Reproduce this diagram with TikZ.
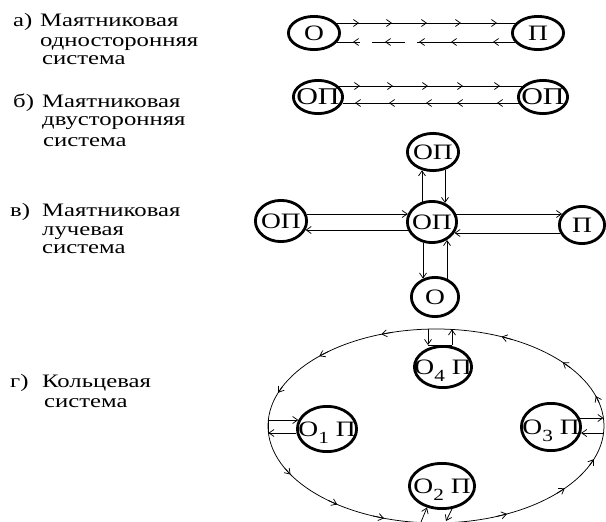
\documentclass[tikz,border=0pt]{standalone}
\usepackage{fontspec}
\setmainfont{Liberation Serif}
\usetikzlibrary{arrows.meta,decorations.markings,calc,shapes.geometric}
\newcommand\hs[1]{\scalebox{1.3}[1]{#1}}
\newcommand\nt[1]{\makebox[0pt]{\raisebox{-0.33em}[0pt][0pt]{\scalebox{1.25}[1]{#1}}}}
\newcommand\sbx[1]{\raisebox{-0.32em}{\fontsize{17}{17}\selectfont #1}}
\tikzset{
 nd/.style={draw, ellipse, line width=2.8pt, inner sep=0pt, font=\fontsize{22}{22}\selectfont},
 ln/.style={line width=0.75pt},
 tip/.style={-{Straight Barb[length=5pt,width=7pt]}},
 marr/.style={postaction={decorate,decoration={markings,mark=at position #1 with {\arrow{Straight Barb[length=5pt,width=7pt]}}}}},
 lab/.style={anchor=base west, inner sep=0pt, font=\fontsize{19}{19}\selectfont},
}
\begin{document}
\begin{tikzpicture}[x=1pt,y=-1pt]
\useasboundingbox (0,0) rectangle (606,522);
\clip (0,0) rectangle (606,522);

% ---------- labels ----------
\node[lab] (la0) at (13,27) {\hs{а)}};
\node[lab] (la1) at (40,27) {\hs{Маятниковая}};
\node[lab] (la2) at (40,46) {\hs{односторонняя}};
\node[lab] (la3) at (42,64) {\hs{система}};

\node[lab] (lb0) at (13,107) {\hs{б)}};
\node[lab] (lb1) at (42,107) {\hs{Маятниковая}};
\node[lab] (lb2) at (42,125) {\hs{двусторонняя}};
\node[lab] (lb3) at (43,146) {\hs{система}};

\node[lab] (lc0) at (10,216) {\hs{в)}};
\node[lab] (lc1) at (42,216) {\hs{Маятниковая}};
\node[lab] (lc2) at (42,235) {\hs{лучевая}};
\node[lab] (lc3) at (42,253) {\hs{система}};

\node[lab] (ld0) at (10,387) {\hs{г)}};
\node[lab] (ld1) at (42,387) {\hs{Кольцевая}};
\node[lab] (ld2) at (44,407) {\hs{система}};

% ---------- row a ----------
\node[nd, minimum width=51.2pt, minimum height=33.2pt] (A1) at (314,33) {\nt{О}};
\node[nd, minimum width=51.2pt, minimum height=33.2pt] (A2) at (538,33) {\nt{П}};
\draw[ln, marr=22.6pt, marr=55.6pt, marr=90.6pt, marr=124.6pt, marr=160.6pt]
  ($(A1.center)+(22.4,-10)$) -- ($(A2.center)+(-22.4,-10)$);
\draw[ln, dash pattern=on 97.6pt off 12pt on 33pt off 12pt on 40pt,
  marr=21.6pt, marr=63.6pt, marr=95.6pt, marr=129.6pt, marr=161.6pt]
  ($(A2.center)+(-23.4,9)$) -- ($(A1.center)+(23.4,9)$);

% ---------- row b ----------
\node[nd, font=\fontsize{24}{24}\selectfont, minimum width=49.2pt, minimum height=33.2pt] (B1) at (318,97) {\nt{ОП}};
\node[nd, font=\fontsize{24}{24}\selectfont, minimum width=49.2pt, minimum height=33.2pt] (B2) at (543,97) {\nt{ОП}};
\draw[ln, marr=21.4pt, marr=54.4pt, marr=89.4pt, marr=124.4pt, marr=161.4pt]
  ($(B1.center)+(20.6,-11)$) -- ($(B2.center)+(-20.6,-11)$);
\draw[ln, marr=21.5pt, marr=61.5pt, marr=92.5pt, marr=129.5pt, marr=163.5pt]
  ($(B2.center)+(-24.5,6)$) -- ($(B1.center)+(24.5,6)$);

% ---------- row c ----------
\node[nd, minimum width=49.2pt, minimum height=41.2pt] (C0) at (432,222) {\nt{ОП}};
\node[nd, minimum width=51.2pt, minimum height=37.2pt] (CT) at (433,152) {\nt{ОП}};
\node[nd, minimum width=51.2pt, minimum height=41.2pt] (CL) at (281,221) {\nt{ОП}};
\node[nd, minimum width=45.2pt, minimum height=37.2pt] (CR) at (582,225) {\nt{П}};
\node[nd, minimum width=47.2pt, minimum height=39.2pt] (CB) at (435,297) {\nt{О}};

\draw[ln,tip] ($(CL.center)+(25.6,-7)$) -- ($(C0.center)+(-24.2,-8)$);
\draw[ln,tip] ($(C0.center)+(-24.2,8)$) -- ($(CL.center)+(24.6,9)$);
\draw[ln,tip] ($(C0.center)+(24.2,-8)$) -- ($(CR.center)+(-20.0,-11)$);
\draw[ln,tip] ($(CR.center)+(-22,8)$) -- ($(C0.center)+(22.5,11)$);
\draw[ln,tip] ($(C0.center)+(-10,-20.3)$) -- ($(CT.center)+(-11,18.3)$);
\draw[ln,tip] ($(CT.center)+(12,17.9)$) -- ($(C0.center)+(13,-19.0)$);
\draw[ln,tip] ($(C0.center)+(-9,20.6)$) -- ($(CB.center)+(-12,-18.4)$);
\draw[ln,tip] ($(CB.center)+(12,-18.4)$) -- ($(C0.center)+(15,18.0)$);

% ---------- row d ----------
\node[draw, ellipse, ln, inner sep=0pt, minimum width=336pt, minimum height=194pt] (R) at (436,426) {};
\node[nd, minimum width=57.2pt, minimum height=41.2pt] (D4) at (443,367) {\nt{О\sbx{4} П}};
\node[nd, minimum width=59.2pt, minimum height=45.2pt] (D1) at (327,429) {\nt{О\sbx{1} П}};
\node[nd, minimum width=59.2pt, minimum height=47.2pt] (D3) at (551,427) {\nt{О\sbx{3} П}};
\node[nd, minimum width=65.2pt, minimum height=45.2pt] (D2) at (442,486) {\nt{О\sbx{2} П}};

% ring arrows (counter-clockwise)
\foreach \a in {18,41,67,109,134,160,210,234,252,295,320,340}
  \draw[ln,tip] ($(R.center)+({168*cos(\a-4)},{-97*sin(\a-4)})$) -- ($(R.center)+({168*cos(\a)},{-97*sin(\a)})$);

% D4 links
\draw[ln,tip] ($(R.center)+(-8,-96.9)$) -- ($(D4.center)+(-15,-22)$);
\draw[ln,tip] ($(D4.center)+(9,-22)$) -- ($(R.center)+(16,-96.6)$);
\draw[ln] ($(D4.center)+(-15,-22)$) -- ($(D4.center)+(9,-22)$);
% D1 links
\draw[ln,tip] ($(R.center)+(-167.7,-6)$) -- ($(D1.center)+(-28.7,-9)$);
\draw[ln,tip] ($(D1.center)+(-30.6,4)$) -- ($(R.center)+(-167.6,7)$);
\draw[ln] ($(R.center)+(-168,-8)$) -- ($(R.center)+(-168,8)$);
% D3 links
\draw[ln,tip] ($(D3.center)+(28.9,-9)$) -- ($(R.center)+(167.4,-8)$);
\draw[ln,tip] ($(R.center)+(167.6,7)$) -- ($(D3.center)+(30.1,6)$);
% D2 links
\draw[ln,tip] ($(R.center)+(-15,96.0)$) -- ($(D2.center)+(-15,21.5)$);
\draw[ln,tip] ($(D2.center)+(10,22.9)$) -- ($(R.center)+(10,95)$);
\end{tikzpicture}
\end{document}
